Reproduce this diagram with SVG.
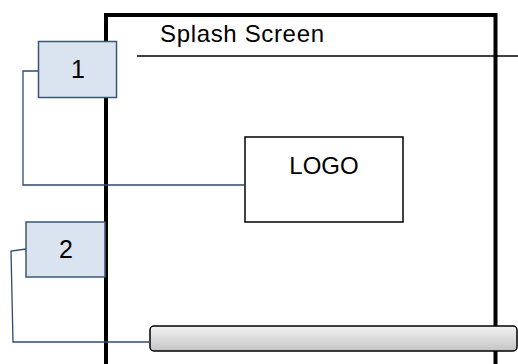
<svg xmlns="http://www.w3.org/2000/svg" width="518" height="364" viewBox="0 0 518 364">
<style>
.lbl{font-family:"Liberation Sans",Arial,sans-serif;fill:#000}
.callout{fill:#dae3f0;stroke:#3b5576;stroke-width:1.5}
.conn{fill:none;stroke:#2f4a6e;stroke-width:1.3}
</style>
<defs>
<linearGradient id="barG" x1="0" y1="0" x2="0" y2="1">
<stop offset="0" stop-color="#f2f2f2"/>
<stop offset="1" stop-color="#c4c4c4"/>
</linearGradient>
</defs>
<rect width="518" height="364" fill="#fff"/>
<g id="screen">
<path d="M106 366 V15 H495.5 V366" fill="none" stroke="#000" stroke-width="4"/>
<line x1="137" y1="56" x2="518" y2="56" stroke="#000" stroke-width="1.5"/>
<text class="lbl" x="160" y="41.5" font-size="24" textLength="164" lengthAdjust="spacing">Splash Screen</text>
</g>
<g id="logo">
<rect x="245" y="137" width="158" height="85" fill="#fff" stroke="#000" stroke-width="1.5"/>
<text class="lbl" x="324" y="174" font-size="24" text-anchor="middle">LOGO</text>
</g>
<g id="progress-bar">
<rect x="150" y="326" width="367" height="25" rx="4" fill="url(#barG)" stroke="#000" stroke-width="1.5"/>
</g>
<g id="connectors">
<path class="conn" d="M38.5 71 H23 V185 H245"/>
<path class="conn" d="M26 249 L11 251 L13 342 H150"/>
</g>
<g id="callout-1">
<rect class="callout" x="38.5" y="41.5" width="78" height="56"/>
<text class="lbl" x="78" y="78" font-size="25" text-anchor="middle">1</text>
</g>
<g id="callout-2">
<rect class="callout" x="26" y="222" width="79" height="55"/>
<text class="lbl" x="66" y="258" font-size="25" text-anchor="middle">2</text>
</g>
</svg>
